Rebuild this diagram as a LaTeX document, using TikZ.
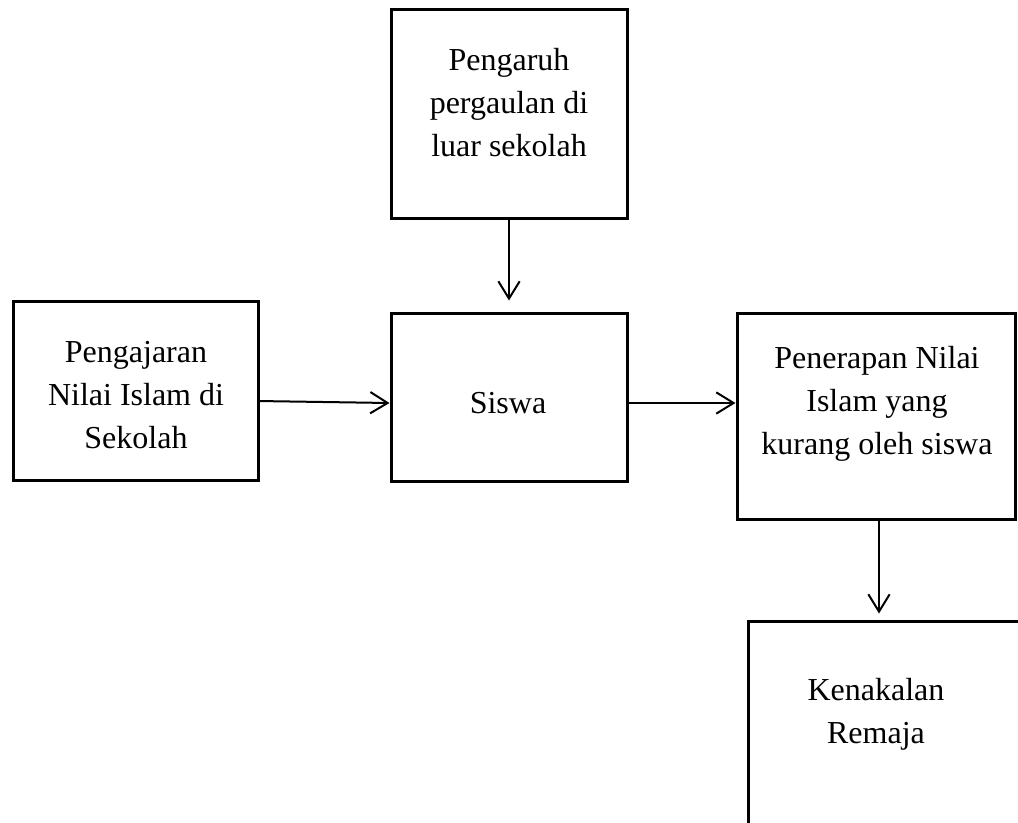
\documentclass[tikz,border=0pt]{standalone}
\usepackage{fontspec}
\setmainfont{Liberation Serif}
\usetikzlibrary{arrows.meta}
\begin{document}
\begin{tikzpicture}[x=0.75pt,y=-0.75pt,
  box/.style={draw,line width=2.25pt,rectangle,inner sep=0pt},
  txt/.style={align=center,inner sep=0pt,font=\fontsize{24}{32.25}\selectfont},
  arr/.style={line width=1.5pt,-{Straight Barb[length=13pt,width=16pt,line width=1.5pt]}}]
\clip (0,0) rectangle (1018,822);
\fill[white] (0,0) rectangle (1018,822);
% boxes
\node[box,minimum width=177pt,minimum height=156.75pt] (top) at (509,113.5) {};
\node[box,minimum width=183.75pt,minimum height=134.25pt] (left) at (135.5,390.5) {};
\node[box,minimum width=177pt,minimum height=126pt] (siswa) at (509,397) {};
\node[box,minimum width=208.5pt,minimum height=154.5pt] (right) at (876,416) {};
\node[box,minimum width=211.5pt,minimum height=160.5pt] (bottom) at (889,728) {};
% texts
\node[txt] (ttop) at (509,103) {Pengaruh\\pergaulan di\\luar sekolah};
\node[txt] (tleft) at (136,395) {Pengajaran\\Nilai Islam di\\Sekolah};
\node[txt] (tsiswa) at (508,403) {Siswa};
\node[txt] (tright) at (877,404) {Penerapan Nilai\\Islam yang\\kurang oleh siswa};
\node[txt] (tbottom) at (876,714) {Kenakalan\\Remaja};
% arrows
\draw[arr] (top.south) -- ++(0,81);
\draw[arr] ([yshift=-7.9pt]left.east) -- ([yshift=-4.5pt]siswa.west);
\draw[arr] ([yshift=-4.5pt]siswa.east) -- ([yshift=9.75pt]right.west);
\draw[arr] ([xshift=2.25pt]right.south) -- ++(0,93);
\end{tikzpicture}
\end{document}
